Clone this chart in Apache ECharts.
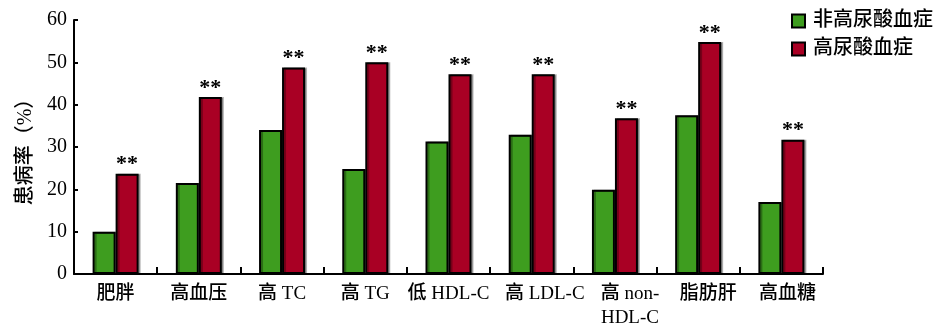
<!DOCTYPE html>
<html>
<head>
<meta charset="utf-8">
<script src="https://cdn.jsdelivr.net/npm/echarts@6/dist/echarts.min.js"></script>
<style>
  html, body { margin: 0; padding: 0; background: #fff; }
  #chart { width: 943px; height: 325px; }
</style>
</head>
<body>
<div id="chart"></div>
<script>
// Prevalence of metabolic conditions by uric acid status (%)
const categories = ['肥胖', '高血压', '高 TC', '高 TG', '低 HDL-C', '高 LDL-C', '高 non-\nHDL-C', '脂肪肝', '高血糖'];
const normalUA = [10.0, 21.5, 34.0, 24.8, 31.3, 32.9, 19.9, 37.5, 17.0];
const hyperUA = [23.7, 41.8, 48.8, 50.0, 47.2, 47.2, 36.8, 54.8, 31.7];
const sigMarks = ['**', '**', '**', '**', '**', '**', '**', '**', '**'];
const seriesNames = ['非高尿酸血症', '高尿酸血症'];
const yTitle = '患病率（%）';

const FONT = '"Liberation Serif", "Noto Sans CJK SC", serif';
const INK = '#000';

// push the crowded right-hand labels rightwards so they clear each other
const labelShift = { '高 LDL-C': 13, '高 non-\nHDL-C': 15, '脂肪肝': 10, '高血糖': 6 };
const axisData = categories.map((c) =>
  labelShift[c] ? { value: c, textStyle: { padding: [0, 0, 0, 2 * labelShift[c]] } } : c
);

const chart = echarts.init(document.getElementById('chart'), null, { renderer: 'canvas' });

const barStyle = (color) => ({
  color: color,
  borderColor: '#000',
  borderWidth: 2,
  shadowColor: 'rgba(0,0,0,0.3)',
  shadowOffsetX: 2,
  shadowOffsetY: 0,
  shadowBlur: 0
});

chart.setOption({
  animation: false,
  backgroundColor: '#fff',
  textStyle: { fontFamily: FONT, color: INK },
  grid: { left: 74, right: 120, top: 20, bottom: 51, containLabel: false, outerBoundsMode: 'none' },
  legend: {
    orient: 'vertical',
    left: 791,
    top: 11,
    padding: 0,
    itemWidth: 13,
    itemHeight: 13,
    itemGap: 8,
    icon: 'rect',
    textStyle: { fontFamily: FONT, fontSize: 20, fontWeight: 500, color: INK, padding: [0, 0, 0, 3] },
    data: seriesNames
  },
  xAxis: {
    type: 'category',
    data: axisData,
    axisLine: { lineStyle: { color: '#000', width: 2 } },
    axisTick: { show: true, inside: true, length: 7, alignWithLabel: false, lineStyle: { color: '#000', width: 2 } },
    axisLabel: { interval: 0, margin: 8, fontFamily: FONT, fontSize: 19, fontWeight: 500, color: INK, lineHeight: 24 },
    splitLine: { show: false }
  },
  yAxis: {
    type: 'value',
    min: 0,
    max: 60,
    interval: 10,
    name: yTitle,
    nameLocation: 'middle',
    nameGap: 34,
    nameRotate: 90,
    nameTextStyle: { fontFamily: FONT, fontSize: 20, fontWeight: 500, color: INK },
    axisLine: { show: true, lineStyle: { color: '#000', width: 2 } },
    axisTick: { show: true, inside: true, length: 4, lineStyle: { color: '#000', width: 2 } },
    axisLabel: { margin: 7, fontFamily: FONT, fontSize: 20, color: INK },
    splitLine: { show: false }
  },
  series: [
    {
      name: seriesNames[0],
      type: 'bar',
      data: normalUA,
      barWidth: 23,
      barGap: '0%',
      itemStyle: barStyle('#3e9d1f')
    },
    {
      name: seriesNames[1],
      type: 'bar',
      data: hyperUA,
      barWidth: 23,
      itemStyle: barStyle('#a90024'),
      label: {
        show: true,
        position: 'top',
        distance: -2,
        formatter: (p) => sigMarks[p.dataIndex],
        fontFamily: FONT,
        fontSize: 22,
        fontWeight: 'bold',
        color: INK
      }
    }
  ]
});
</script>
</body>
</html>
